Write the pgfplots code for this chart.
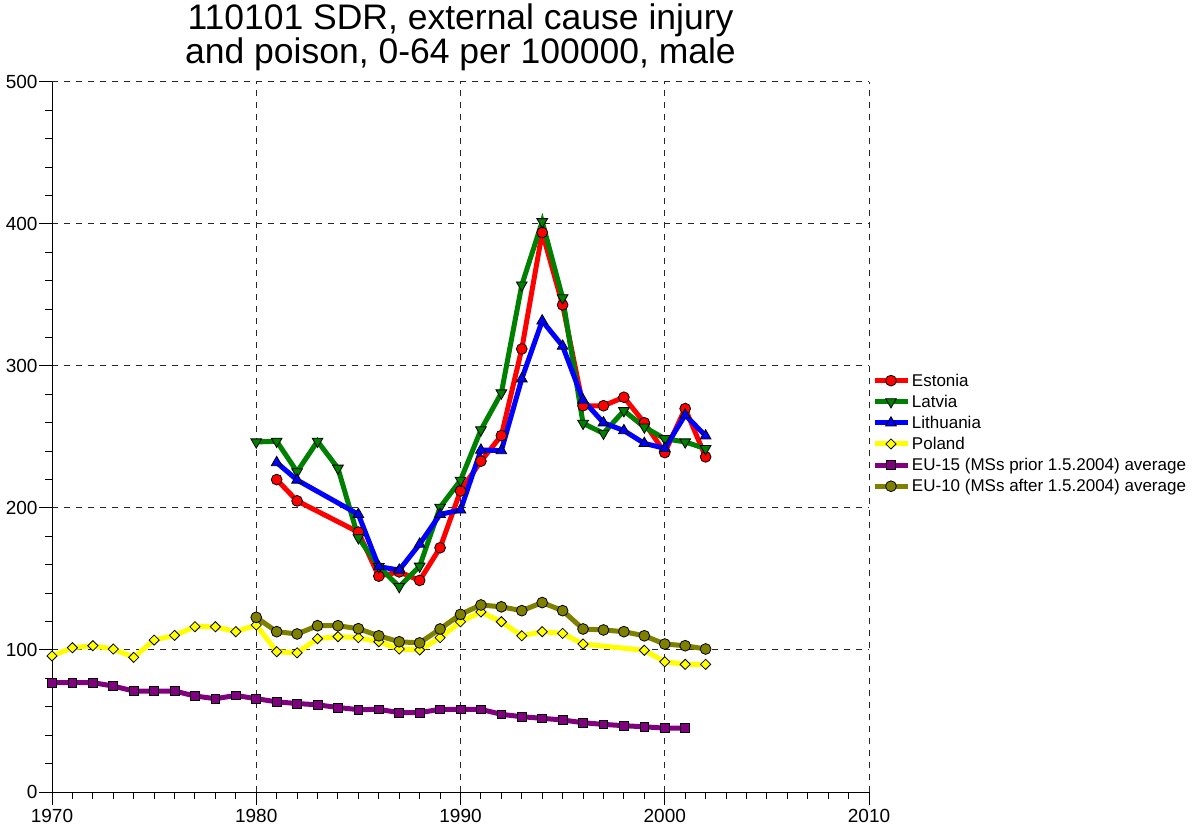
\documentclass[border=0pt]{standalone}
\usepackage{pgfplots}
\pgfplotsset{compat=1.18}
\usepackage{fontspec}
\setmainfont{Liberation Sans}
\definecolor{cEst}{RGB}{255,0,0}
\definecolor{cLat}{RGB}{0,128,0}
\definecolor{cLit}{RGB}{0,0,255}
\definecolor{cPol}{RGB}{255,255,0}
\definecolor{cEU15}{RGB}{128,0,128}
\definecolor{cEU10}{RGB}{128,128,0}
\pgfplotsset{mk/.style={mark options={solid, draw=black, line width=0.8pt, fill=#1}}}
\begin{document}
\begin{tikzpicture}
\begin{axis}[
  name=ax,
  at={(0pt,0pt)}, anchor=south west,
  scale only axis,
  width=817pt, height=710pt,
  xmin=1970, xmax=2010, ymin=0, ymax=500,
  xtick={1970,1980,1990,2000,2010},
  ytick={0,100,200,300,400,500},
  minor x tick num=9,
  minor y tick num=4,
  axis x line*=bottom, axis y line*=left,
  axis line style={black, line width=1pt},
  tick align=outside,
  major tick length=13pt, minor tick length=7pt,
  every tick/.style={black, line width=1pt},
  grid=major,
  major grid style={black!85, dash pattern=on 6pt off 6pt, line width=1pt},
  tick label style={font=\fontsize{19}{21}\selectfont},
  xticklabel style={yshift=-1pt},
  yticklabel style={xshift=2pt},
  /pgf/number format/1000 sep={},
  /pgf/number format/assume math mode=true,
  title={110101 SDR, external cause injury\\and poison, 0-64 per 100000, male},
  title style={at={(0.5,1)}, anchor=south, yshift=2pt, align=center, font=\fontsize{35.5}{34}\selectfont},
  legend style={at={(1.004,0.5915)}, anchor=north west, draw=none, fill=none,
    font=\fontsize{17}{18}\selectfont, row sep=4.3pt, inner sep=0pt,
    nodes={inner sep=1.5pt}},
  legend cell align=left,
  legend image code/.code={
    \draw[#1] (0pt,0pt) -- (16pt,0pt) -- (33pt,0pt);
    \draw[#1, mark repeat=2, mark phase=2] plot coordinates {(0pt,0pt) (16pt,0pt) (33pt,0pt)};
  },
  every axis plot/.append style={line width=5pt},
  clip=false,
]
\addplot[color=cEst, mark=*, mark size=5.4pt, mk=cEst] coordinates {
(1981,220) (1982,205) (1985,183) (1986,152) (1987,155) (1988,149) (1989,172) (1990,212)
(1991,233) (1992,251) (1993,312) (1994,394) (1995,343) (1996,272) (1997,272) (1998,278)
(1999,260) (2000,239) (2001,270) (2002,236)};
\addlegendentry{Estonia}
\addplot[color=cLat, mark=triangle*, mark size=6.2pt, mark options={solid, draw=black, line width=0.8pt, fill=cLat, rotate=180}] coordinates {
(1980,246.5) (1981,247) (1982,225.5) (1983,247) (1984,228) (1985,179) (1986,158.7) (1987,144.6)
(1988,159) (1989,200.5) (1990,219.5) (1991,255) (1992,281) (1993,357) (1994,401.6) (1995,348)
(1996,259.6) (1997,252.6) (1998,268.5) (1999,257) (2000,248.8) (2001,246.5) (2002,241.8)};
\addlegendentry{Latvia}
\addplot[color=cLit, mark=triangle*, mark size=6.2pt, mk=cLit] coordinates {
(1981,232) (1982,219.7) (1985,195.5) (1986,158.7) (1987,156.3) (1988,174.6) (1989,195.5) (1990,198.6)
(1991,240.8) (1992,240.4) (1993,291) (1994,331.8) (1995,314) (1996,276) (1997,260) (1998,254.5)
(1999,245.5) (2000,242) (2001,265.5) (2002,250.8)};
\addlegendentry{Lithuania}
\addplot[color=cPol, mark=square*, mark size=3.6pt, mark options={solid, draw=black, line width=0.8pt, fill=cPol, rotate=45}] coordinates {
(1970,95.8) (1971,101.6) (1972,103) (1973,100.7) (1974,94.8) (1975,107) (1976,110.3) (1977,116.4)
(1978,116.4) (1979,112.9) (1980,117.6) (1981,98.8) (1982,98) (1983,108) (1984,109.4) (1985,108.7)
(1986,105.8) (1987,100.7) (1988,100) (1989,108.7) (1990,119.9) (1991,126.8) (1992,119.9) (1993,110)
(1994,112.9) (1995,111.7) (1996,104.2) (1999,99.8) (2000,91.7) (2001,89.9) (2002,89.9)};
\addlegendentry{Poland}
\addplot[color=cEU15, mark=square*, mark size=4.4pt, mk=cEU15] coordinates {
(1970,77) (1971,77) (1972,77) (1973,74.6) (1974,71.1) (1975,71.1) (1976,71.1) (1977,67.6)
(1978,65.7) (1979,68) (1980,65.7) (1981,63.5) (1982,62.3) (1983,61.4) (1984,59.5) (1985,58)
(1986,58.2) (1987,55.9) (1988,55.9) (1989,58.2) (1990,58.2) (1991,58.2) (1992,54.7) (1993,53)
(1994,51.9) (1995,50.7) (1996,48.8) (1997,47.6) (1998,46.7) (1999,45.9) (2000,45) (2001,45)};
\addlegendentry{EU-15 (MSs prior 1.5.2004) average}
\addplot[color=cEU10, mark=*, mark size=5.4pt, mk=cEU10] coordinates {
(1980,123) (1981,112.9) (1982,111.3) (1983,117.1) (1984,117.1) (1985,115) (1986,110) (1987,105.8)
(1988,105) (1989,114.8) (1990,125.1) (1991,131.7) (1992,130.4) (1993,127.7) (1994,133.4) (1995,127.7)
(1996,114.8) (1997,114.1) (1998,112.9) (1999,110) (2000,104.2) (2001,103) (2002,100.7)};
\addlegendentry{EU-10 (MSs after 1.5.2004) average}
\end{axis}
\pgfresetboundingbox
\path[use as bounding box] (-52pt,-40pt) rectangle (1141pt,792pt);
\end{tikzpicture}
\end{document}
